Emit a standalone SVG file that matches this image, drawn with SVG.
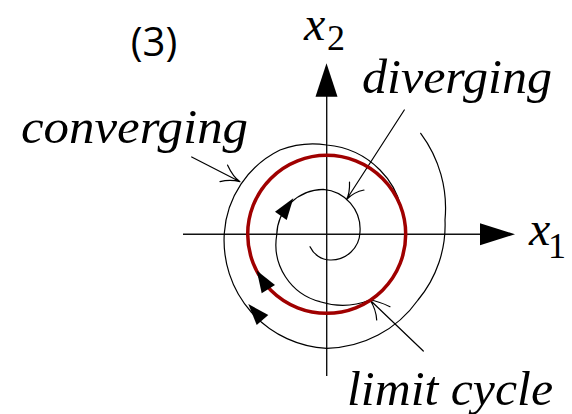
<svg xmlns="http://www.w3.org/2000/svg" width="572" height="414" viewBox="0 0 572 414">
<rect width="572" height="414" fill="#fff"/>
<g id="axes">
<g fill="none" stroke="#111" stroke-width="1.4">
<line x1="183" y1="234.3" x2="482" y2="234.3"/>
<line x1="326.7" y1="96" x2="326.7" y2="376"/>
</g>
<g fill="#000" stroke="none">
<polygon points="480,223.3 515,234.3 480,245.3"/>
<polygon points="315.5,96.7 326.5,63.3 337.5,96.7"/>
</g>
</g>
<g id="connectors">
<g fill="none" stroke="#000" stroke-width="1.2" stroke-linecap="round">
<path id="outer-spiral" d="M420.7 133.3 A125 125 0 0 1 445 220 A117 117 0 0 1 418 300 A114 114 0 0 1 326.7 348.3 A108 108 0 0 1 224.3 233.3 A100 100 0 0 1 280 150 A92 92 0 0 1 326.7 145 A85 85 0 0 1 380 170 A80 80 0 0 1 401 207"/>
<path id="inner-spiral" d="M310 246.7 A23 23 0 0 0 330 260 A29 29 0 0 0 360 232 A40 40 0 0 0 323.3 189.3 A47 47 0 0 0 276.7 235 A59 59 0 0 0 320 301.7 A74 74 0 0 0 370 300 A79 79 0 0 0 383 290"/>
<path d="M404.3 110 L346.5 199.5 M349.5 182 Q350 193 346.5 199.5 Q354 192 364 190"/>
<path d="M191.7 157 L240 181.7 M227.5 165 Q233 177 240 181.7 Q230 179 220 181.7"/>
<path d="M423.3 351 L370 300 M390 306.7 Q378 301 370 300 Q376 309 376.7 320"/>
</g>
<circle id="limit-cycle-curve" cx="326.7" cy="234.3" r="79" fill="none" stroke="#a00000" stroke-width="3.5"/>
<g fill="#000" stroke="none">
<polygon points="275,211.7 293.3,198.3 286.7,220"/>
<polygon points="256.7,270.5 261.7,293.3 275,285"/>
<polygon points="248.3,304 256.7,325 268.3,315"/>
</g>
</g>
<g id="label-3"><text x="154" y="56" text-anchor="middle" font-family="'Open Sans'" font-size="40">(3)</text></g>
<g id="label-x2">
<text transform="translate(304,40) scale(1.6)" font-size="30" font-style="italic" font-family="'Liberation Serif'">x</text>
<text transform="translate(327,50) scale(1.2)" font-size="30" font-family="'Liberation Serif'">2</text>
</g>
<g id="label-x1">
<text transform="translate(529,245) scale(1.6)" font-size="30" font-style="italic" font-family="'Liberation Serif'">x</text>
<text transform="translate(548,258) scale(1.2)" font-size="30" font-family="'Liberation Serif'">1</text>
</g>
<g id="label-diverging"><text transform="translate(362,93.3) scale(1.6)" font-family="'Liberation Serif'" font-style="italic" font-size="30" textLength="118.75" lengthAdjust="spacingAndGlyphs">diverging</text></g>
<g id="label-converging"><text transform="translate(21,143.3) scale(1.6)" font-family="'Liberation Serif'" font-style="italic" font-size="30" textLength="141.9" lengthAdjust="spacingAndGlyphs">converging</text></g>
<g id="label-limit-cycle"><text transform="translate(347,405) scale(1.6)" font-family="'Liberation Serif'" font-style="italic" font-size="30" textLength="128.75" lengthAdjust="spacingAndGlyphs">limit cycle</text></g>
</svg>
